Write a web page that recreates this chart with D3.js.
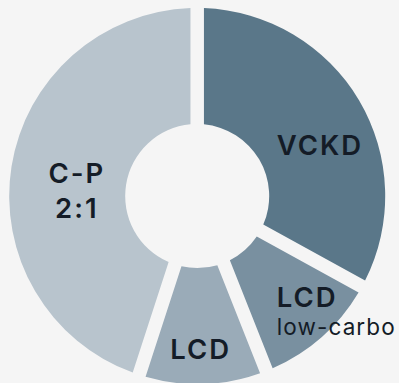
<!DOCTYPE html>
<html><head><meta charset="utf-8">
<script src="https://cdn.jsdelivr.net/npm/d3@7"></script>
<style>html,body{margin:0;padding:0;background:#f5f5f5;overflow:hidden}svg{display:block}</style>
</head><body>
<svg id="chart" width="399" height="383"></svg>
<script>
// ---- data ----
const categories = ["VCKD", "LCD low-carbo", "LCD", "C-P 2:1"];
const values = [33, 11, 11, 45];
const labelLines = [["VCKD"], ["LCD", "low-carbo"], ["LCD"], ["C-P", "2:1"]];
const colors = ["#5a7789", "#7990a0", "#9aabb8", "#b8c4cd"];

// ---- layout ----
const W = 399, H = 383;
const cx = 197.2, cy = 196, outerR = 188, innerR = 72;
const bg = "#f5f5f5", textColor = "#141c27";
const labelFont = "Inter, 'Open Sans', sans-serif";
// per-label placement relative to centroid
const labelStyle = [
  {anchor: "middle", dx: 10.9, dy: 25.2, lh: 0},
  {anchor: "start", dx: -6.4, dy: 13.2, lh: 28.3},
  {anchor: "middle", dx: -0.5, dy: 33.1, lh: 0},
  {anchor: "middle", dx: 8, dy: 7, lh: 35.6}
];

const data = categories.map((c, i) => ({name: c, value: values[i], lines: labelLines[i], color: colors[i], ls: labelStyle[i]}));

const svg = d3.select("#chart");
svg.append("rect").attr("width", W).attr("height", H).attr("fill", bg);
const g = svg.append("g").attr("transform", `translate(${cx},${cy})`);

const pie = d3.pie().value(d => d.value).sort(null).startAngle(0).endAngle(2 * Math.PI);
const arcs = pie(data);
const gap = 13.5;
const arc = d3.arc().innerRadius(innerR).outerRadius(outerR).padRadius(outerR).padAngle(gap / outerR);
const labelArc = d3.arc().innerRadius(130).outerRadius(130);

g.selectAll("path.slice").data(arcs).join("path")
  .attr("class", "slice")
  .attr("d", arc)
  .attr("fill", d => d.data.color);

const labels = g.selectAll("text.lbl").data(arcs).join("text")
  .attr("class", "lbl")
  .attr("font-family", labelFont)
  .attr("fill", textColor)
  .attr("text-anchor", d => d.data.ls.anchor)
  .attr("transform", d => {
    const [x, y] = labelArc.centroid(d);
    return `translate(${x + d.data.ls.dx},${y + d.data.ls.dy})`;
  });

labels.each(function(d) {
  const t = d3.select(this);
  d.data.lines.forEach((line, j) => {
    const sub = d.data.name === "LCD low-carbo" && j === 1;
    t.append("tspan")
      .attr("x", 0)
      .attr("y", j * d.data.ls.lh)
      .attr("font-size", sub ? 22.5 : 27.5)
      .attr("font-weight", sub ? 400 : 600)
      .attr("letter-spacing", sub ? 1.1 : 2)
      .text(line);
  });
});
</script>
</body></html>
